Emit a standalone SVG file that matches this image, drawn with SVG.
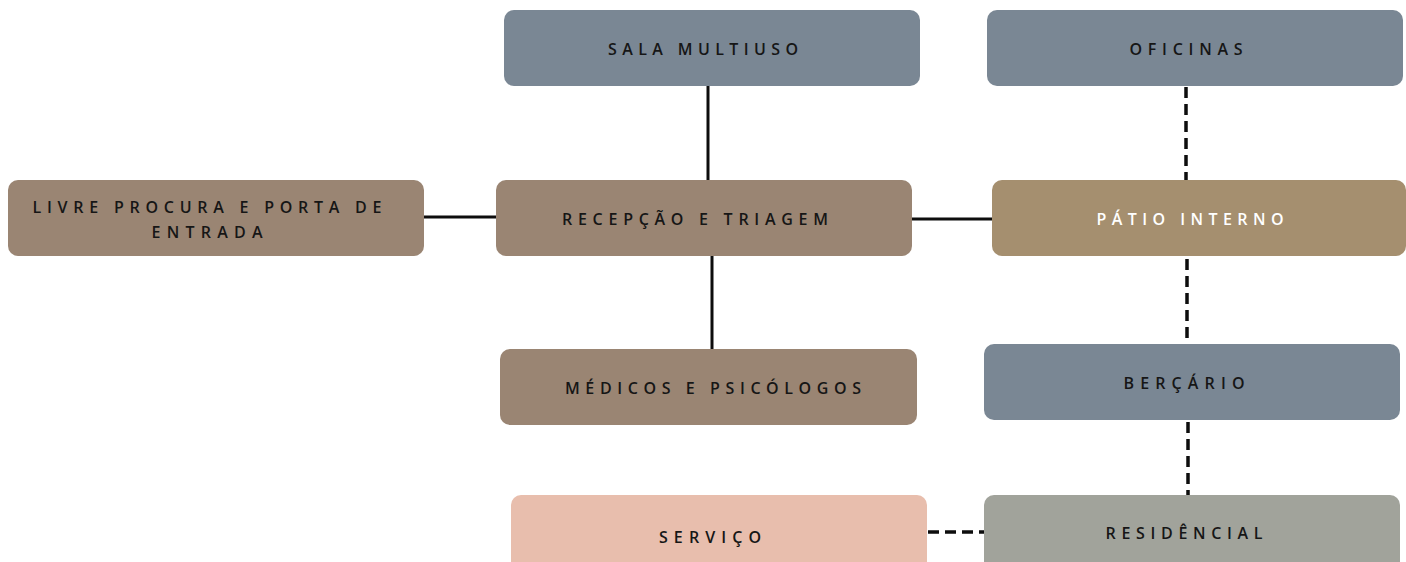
<svg xmlns="http://www.w3.org/2000/svg" width="1406" height="562" viewBox="0 0 1406 562">
<style>
.box{stroke:none}
.slate{fill:#7a8794}
.brown{fill:#9a8573}
.tan{fill:#a58f6f}
.pink{fill:#e8bead}
.grey{fill:#a1a39b}
.lbl{font-family:"Open Sans","Liberation Sans",sans-serif;font-weight:600;font-size:16px;fill:#161616;text-anchor:middle}
.white{fill:#ffffff}
.solid{stroke:#0d0d0d;stroke-width:3;fill:none}
.dash{stroke:#0d0d0d;stroke-width:3.5;fill:none;stroke-dasharray:11 6}
</style>
<rect width="1406" height="562" fill="#ffffff"/>
<g id="connectors">
<line class="solid" x1="708" y1="86" x2="708" y2="180"/>
<line class="solid" x1="712" y1="256" x2="712" y2="349"/>
<line class="solid" x1="424" y1="217" x2="496" y2="217"/>
<line class="solid" x1="912" y1="219" x2="992" y2="219"/>
<line class="dash" x1="1186" y1="87" x2="1186" y2="180"/>
<line class="dash" x1="1187" y1="259" x2="1187" y2="344"/>
<line class="dash" x1="1188" y1="422" x2="1188" y2="495"/>
<line class="dash" x1="928" y1="532" x2="984" y2="532"/>
</g>
<g id="sala-multiuso">
<rect class="box slate" x="504" y="10" width="416" height="76" rx="10"/>
<text class="lbl" x="703" y="55" textLength="190" lengthAdjust="spacing">SALA MULTIUSO</text>
</g>
<g id="oficinas">
<rect class="box slate" x="987" y="10" width="416" height="76" rx="10"/>
<text class="lbl" x="1186" y="55" textLength="113" lengthAdjust="spacing">OFICINAS</text>
</g>
<g id="livre-procura">
<rect class="box brown" x="8" y="180" width="416" height="76" rx="10"/>
<text class="lbl" x="207" y="212.5" textLength="349" lengthAdjust="spacing">LIVRE PROCURA E PORTA DE</text>
<text class="lbl" x="207" y="237.5" textLength="111" lengthAdjust="spacing">ENTRADA</text>
</g>
<g id="recepcao">
<rect class="box brown" x="496" y="180" width="416" height="76" rx="10"/>
<text class="lbl" x="695" y="225" textLength="266" lengthAdjust="spacing">RECEPÇÃO E TRIAGEM</text>
</g>
<g id="patio-interno">
<rect class="box tan" x="992" y="180" width="414" height="76" rx="10"/>
<text class="lbl white" x="1190" y="225" textLength="187" lengthAdjust="spacing">PÁTIO INTERNO</text>
</g>
<g id="medicos">
<rect class="box brown" x="500" y="349" width="417" height="76" rx="10"/>
<text class="lbl" x="713" y="393.5" textLength="296" lengthAdjust="spacing">MÉDICOS E PSICÓLOGOS</text>
</g>
<g id="bercario">
<rect class="box slate" x="984" y="344" width="416" height="76" rx="10"/>
<text class="lbl" x="1184" y="388.5" textLength="121" lengthAdjust="spacing">BERÇÁRIO</text>
</g>
<g id="servico">
<rect class="box pink" x="511" y="495" width="416" height="80" rx="10"/>
<text class="lbl" x="710" y="542.5" textLength="102" lengthAdjust="spacing">SERVIÇO</text>
</g>
<g id="residencial">
<rect class="box grey" x="984" y="495" width="416" height="80" rx="10"/>
<text class="lbl" x="1184" y="538.5" textLength="157" lengthAdjust="spacing">RESIDÊNCIAL</text>
</g>
</svg>
